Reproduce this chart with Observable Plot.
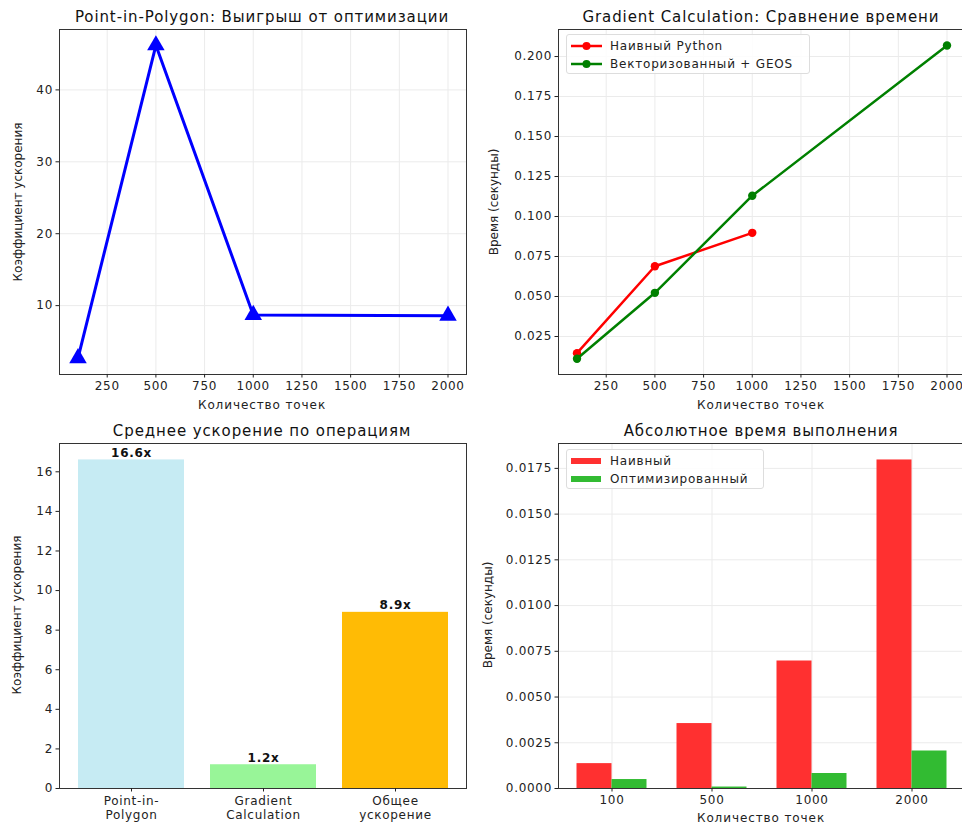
<!DOCTYPE html>
<html>
<head>
<meta charset="utf-8">
<script src="https://cdn.jsdelivr.net/npm/d3@7"></script>
<script src="https://cdn.jsdelivr.net/npm/@observablehq/plot@0.6"></script>
<style>
  html, body { margin: 0; padding: 0; background: #fff; }
  #root { position: relative; width: 962px; height: 825px; overflow: hidden; background: #fff; font-family: "DejaVu Sans", sans-serif; color: #222; }
  .panel { position: absolute; }
  .title { position: absolute; font-size: 15px; letter-spacing: 0.9px; white-space: nowrap; transform: translate(-50%, -50%); color: #111; }
  .xlab { position: absolute; font-size: 12px; letter-spacing: 0.9px; white-space: nowrap; transform: translate(-50%, -50%); }
  .ylab { position: absolute; font-size: 12px; letter-spacing: 0px; white-space: nowrap; transform: translate(-50%, -50%) rotate(-90deg); }
  .legend { position: absolute; background: rgba(255,255,255,0.85); border: 1px solid #ddd; border-radius: 3px; font-size: 12px; letter-spacing: 0.8px; }
  .legend .row { position: absolute; left: 0; white-space: nowrap; }
  .legend svg { position: absolute; }
  .legend span { position: absolute; transform: translateY(-50%); white-space: nowrap; }
</style>
</head>
<body>
<div id="root"></div>
<script>
// ---------------- data ----------------
const sizes = [100, 500, 1000, 2000];
const pipSpeedup = [2.7, 46.2, 8.7, 8.6];

const gradSizesNaive = [100, 500, 1000];
const gradNaive = [0.0146, 0.0689, 0.0898];
const gradSizesVector = [100, 500, 1000, 2000];
const gradVector = [0.0111, 0.0523, 0.1130, 0.2069];

const operations = ["Point-in-Polygon", "Gradient Calculation", "Общее ускорение"];
const operationTicks = ["Point-in-\nPolygon", "Gradient\nCalculation", "Общее\nускорение"];
const avgSpeedup = [16.6, 1.2, 8.9];
const operationColors = ["#c6ebf3", "#98f598", "#ffbb05"];

const sizeLabels = ["100", "500", "1000", "2000"];
const absNaive = [0.00136, 0.00355, 0.00697, 0.01796];
const absOptimized = [0.00049, 0.00008, 0.00082, 0.00205];

const xTicksLine = [250, 500, 750, 1000, 1250, 1500, 1750, 2000];
const yTicksPip = [10, 20, 30, 40];
const yTicksGrad = [0.025, 0.05, 0.075, 0.1, 0.125, 0.15, 0.175, 0.2];
const yTicksAvg = [0, 2, 4, 6, 8, 10, 12, 14, 16];
const yTicksAbs = [0, 0.0025, 0.005, 0.0075, 0.01, 0.0125, 0.015, 0.0175];

// ---------------- helpers ----------------
const root = document.getElementById("root");
const style = {fontFamily: "DejaVu Sans", fontSize: "12px", color: "#222", background: "transparent", letterSpacing: "0.7px", overflow: "visible"};
const gridColor = "#ebebeb";
const frameColor = "#333";

function place(el, left, top) {
  el.classList.add("panel");
  el.style.left = left + "px";
  el.style.top = top + "px";
  root.appendChild(el);
}
function addText(cls, text, x, y) {
  const d = document.createElement("div");
  d.className = cls;
  d.textContent = text;
  d.style.left = x + "px";
  d.style.top = y + "px";
  root.appendChild(d);
}
function addLegend(left, top, w, h, items) {
  const box = document.createElement("div");
  box.className = "legend";
  box.style.left = left + "px"; box.style.top = top + "px";
  box.style.width = w + "px"; box.style.height = h + "px";
  items.forEach((it, i) => {
    const cy = 11 + i * 18;
    const svg = document.createElementNS("http://www.w3.org/2000/svg", "svg");
    svg.setAttribute("width", 36); svg.setAttribute("height", 12);
    svg.style.left = "2px"; svg.style.top = (cy - 6) + "px";
    if (it.type === "line") {
      svg.innerHTML = `<line x1="2" x2="33" y1="6" y2="6" stroke="${it.color}" stroke-width="2.5"/><circle cx="17.5" cy="6" r="4" fill="${it.color}"/>`;
    } else {
      svg.innerHTML = `<rect x="2" y="3" width="30" height="6" fill="${it.color}"/>`;
    }
    box.appendChild(svg);
    const sp = document.createElement("span");
    sp.textContent = it.label;
    sp.style.left = "43px"; sp.style.top = cy + "px";
    box.appendChild(sp);
  });
  root.appendChild(box);
}

// ---------------- panel 1: Point-in-Polygon speedup ----------------
const pipData = sizes.map((s, i) => ({size: s, v: pipSpeedup[i]}));
const p1 = Plot.plot({
  width: 480, height: 415,
  marginLeft: 59, marginRight: 14, marginTop: 29, marginBottom: 41,
  style,
  x: {type: "linear", domain: [5, 2095]},
  y: {type: "linear", domain: [0.42, 48.4]},
  marks: [
    Plot.gridX(xTicksLine, {stroke: gridColor, strokeOpacity: 1}),
    Plot.gridY(yTicksPip, {stroke: gridColor, strokeOpacity: 1}),
    Plot.line(pipData, {x: "size", y: "v", stroke: "#0000ff", strokeWidth: 3}),
    Plot.dot(pipData, {x: "size", y: "v", symbol: "triangle", r: 6.5, fill: "#0000ff", stroke: "none"}),
    Plot.frame({stroke: frameColor}),
    Plot.axisX(xTicksLine, {tickSize: 3.5, tickPadding: 3, label: null, tickFormat: d => String(d)}),
    Plot.axisY(yTicksPip, {tickSize: 3.5, tickPadding: 3, label: null, tickFormat: d => String(d)})
  ]
});
place(p1, 0, 0);
addText("title", "Point-in-Polygon: Выигрыш от оптимизации", 262, 17);
addText("xlab", "Количество точек", 262, 405);
addText("ylab", "Коэффициент ускорения", 18, 202);

// ---------------- panel 2: Gradient calculation times ----------------
const gNaive = gradSizesNaive.map((s, i) => ({size: s, v: gradNaive[i]}));
const gVec = gradSizesVector.map((s, i) => ({size: s, v: gradVector[i]}));
const p2 = Plot.plot({
  width: 490, height: 415,
  marginLeft: 78, marginRight: 5, marginTop: 29, marginBottom: 41,
  style,
  x: {type: "linear", domain: [5, 2095]},
  y: {type: "linear", domain: [0.00125, 0.2169]},
  marks: [
    Plot.gridX(xTicksLine, {stroke: gridColor, strokeOpacity: 1}),
    Plot.gridY(yTicksGrad, {stroke: gridColor, strokeOpacity: 1}),
    Plot.line(gNaive, {x: "size", y: "v", stroke: "#ff0000", strokeWidth: 2.5}),
    Plot.dot(gNaive, {x: "size", y: "v", r: 4.2, fill: "#ff0000", stroke: "none"}),
    Plot.line(gVec, {x: "size", y: "v", stroke: "#008000", strokeWidth: 2.5}),
    Plot.dot(gVec, {x: "size", y: "v", r: 4.2, fill: "#008000", stroke: "none"}),
    Plot.frame({stroke: frameColor}),
    Plot.axisX(xTicksLine, {tickSize: 3.5, tickPadding: 3, label: null, tickFormat: d => String(d)}),
    Plot.axisY(yTicksGrad, {tickSize: 3.5, tickPadding: 3, label: null, tickFormat: d3.format(".3f")})
  ]
});
place(p2, 480, 0);
addText("title", "Gradient Calculation: Сравнение времени", 761, 17);
addText("xlab", "Количество точек", 761, 405);
addText("ylab", "Время (секунды)", 494, 202);
addLegend(566, 34, 242, 38, [
  {type: "line", color: "#ff0000", label: "Наивный Python"},
  {type: "line", color: "#008000", label: "Векторизованный + GEOS"}
]);

// ---------------- panel 3: average speedup ----------------
const avgData = operations.map((o, i) => ({op: o, v: avgSpeedup[i], color: operationColors[i]}));
const tickMap = new Map(operations.map((o, i) => [o, operationTicks[i]]));
const p3 = Plot.plot({
  width: 480, height: 410,
  marginLeft: 59, marginRight: 14, marginTop: 28, marginBottom: 37,
  style,
  x: {type: "band", domain: operations, paddingInner: 0.2, paddingOuter: 0.14},
  y: {type: "linear", domain: [0, 17.43]},
  color: {type: "identity"},
  marks: [
    Plot.barY(avgData, {x: "op", y: "v", fill: "color"}),
    Plot.text(avgData, {x: "op", y: "v", text: d => d.v.toFixed(1) + "x", dy: -3, lineAnchor: "bottom", fontWeight: "bold", fontSize: 12, fill: "#111"}),
    Plot.frame({stroke: frameColor}),
    Plot.axisX({tickSize: 3.5, tickPadding: 3, label: null, tickFormat: d => tickMap.get(d), lineHeight: 1.15}),
    Plot.axisY(yTicksAvg, {tickSize: 3.5, tickPadding: 3, label: null, tickFormat: d => String(d)})
  ]
});
place(p3, 0, 415);
addText("title", "Среднее ускорение по операциям", 262, 431);
addText("ylab", "Коэффициент ускорения", 17, 615);

// ---------------- panel 4: absolute time ----------------
const absData = sizeLabels.map((s, i) => ({i, label: s, naive: absNaive[i], opt: absOptimized[i]}));
const barW = 0.35;
const p4 = Plot.plot({
  width: 490, height: 410,
  marginLeft: 78, marginRight: 5, marginTop: 28, marginBottom: 37,
  style,
  x: {type: "linear", domain: [-0.535, 3.535]},
  y: {type: "linear", domain: [0, 0.01886]},
  marks: [
    Plot.gridX(absData.map(d => d.i), {stroke: gridColor, strokeOpacity: 1}),
    Plot.gridY(yTicksAbs, {stroke: gridColor, strokeOpacity: 1}),
    Plot.rectY(absData, {x1: d => d.i - barW, x2: d => d.i, y: "naive", fill: "#ff3030", inset: 0}),
    Plot.rectY(absData, {x1: d => d.i, x2: d => d.i + barW, y: "opt", fill: "#32bb32", inset: 0}),
    Plot.frame({stroke: frameColor}),
    Plot.axisX(absData.map(d => d.i), {tickSize: 3.5, tickPadding: 3, label: null, tickFormat: i => sizeLabels[i]}),
    Plot.axisY(yTicksAbs, {tickSize: 3.5, tickPadding: 3, label: null, tickFormat: d3.format(".4f")})
  ]
});
place(p4, 480, 415);
addText("title", "Абсолютное время выполнения", 761, 431);
addText("xlab", "Количество точек", 761, 818);
addText("ylab", "Время (секунды)", 488, 615);
addLegend(566, 449, 196, 38, [
  {type: "rect", color: "#ff3030", label: "Наивный"},
  {type: "rect", color: "#32bb32", label: "Оптимизированный"}
]);
</script>
</body>
</html>
